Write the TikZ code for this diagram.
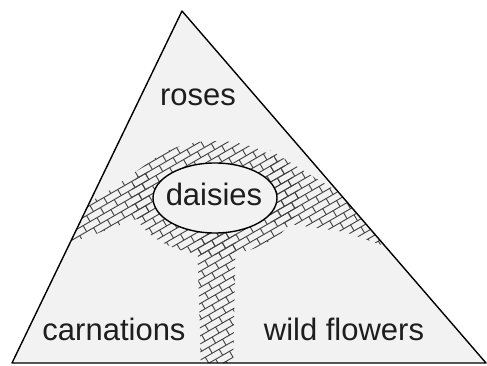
\documentclass[tikz,border=0pt]{standalone}
\usepackage{fontspec}
\setmainfont{Liberation Sans}
\usetikzlibrary{shapes.geometric}
\definecolor{trifill}{RGB}{242,242,242}
\definecolor{txt}{RGB}{30,30,30}
\tikzset{
  brick/.style={draw=black!75, line width=0.9pt},
  lbl/.style={anchor=base, inner sep=0pt, text=txt, font=\fontsize{31}{31}\selectfont},
  edge/.style={draw=black, line width=1.4pt, line join=round}
}
\newcommand\brickfill{%
  \begin{scope}[shift={(215,198)}, rotate=30]
    \foreach \k in {-32,...,32} \draw[brick] (-224,\k*7) -- (224,\k*7);
    \foreach \m in {-28,...,28} {
      \pgfmathtruncatemacro\bpar{mod(abs(\m),2)}
      \ifnum\bpar=0
        \draw[brick, dash pattern=on 7pt off 7pt] (\m*8,-224) -- (\m*8,224);
      \else
        \draw[brick, dash pattern=on 7pt off 7pt, dash phase=7pt] (\m*8,-224) -- (\m*8,224);
      \fi
    }
  \end{scope}}
\begin{document}
\begin{tikzpicture}[x=1pt,y=-1pt]
\useasboundingbox (0,0) rectangle (487,366);
\coordinate (A) at (182,11);
\coordinate (B) at (12,363);
\coordinate (C) at (486,363);
\fill[trifill] (A) -- (B) -- (C) -- cycle;
\begin{scope}
  \clip (A) -- (B) -- (C) -- cycle;
  % ring around the ellipse
  \begin{scope}
    \clip (215,198) ellipse [x radius=84, y radius=57];
    \brickfill
  \end{scope}
  % left arm
  \begin{scope}
    \clip (60,212) -- (100,197) -- (148,163) -- (150,214) -- (90,236) -- (60,246) -- cycle;
    \brickfill
  \end{scope}
  % right arm
  \begin{scope}
    \clip (270,150) -- (335,190) -- (395,240) -- (390,248) -- (345,232) -- (290,224) -- (270,222) -- cycle;
    \brickfill
  \end{scope}
  % stem
  \begin{scope}
    \clip (197,230) -- (236,230) -- (233,370) -- (201,370) -- cycle;
    \brickfill
  \end{scope}
\end{scope}
\draw[edge] (A) -- (B) -- (C) -- cycle;
\node[ellipse, draw=black, line width=1.4pt, fill=trifill, minimum width=124pt, minimum height=70pt, inner sep=0pt] (dz) at (215,198) {};
\node[lbl] (roses) at (198,106) {roses};
\node[lbl] (daisies) at (214,206) {daisies};
\node[lbl] (carn) at (114,340) {carnations};
\node[lbl] (wild) at (344,340) {wild flowers};
\end{tikzpicture}
\end{document}
